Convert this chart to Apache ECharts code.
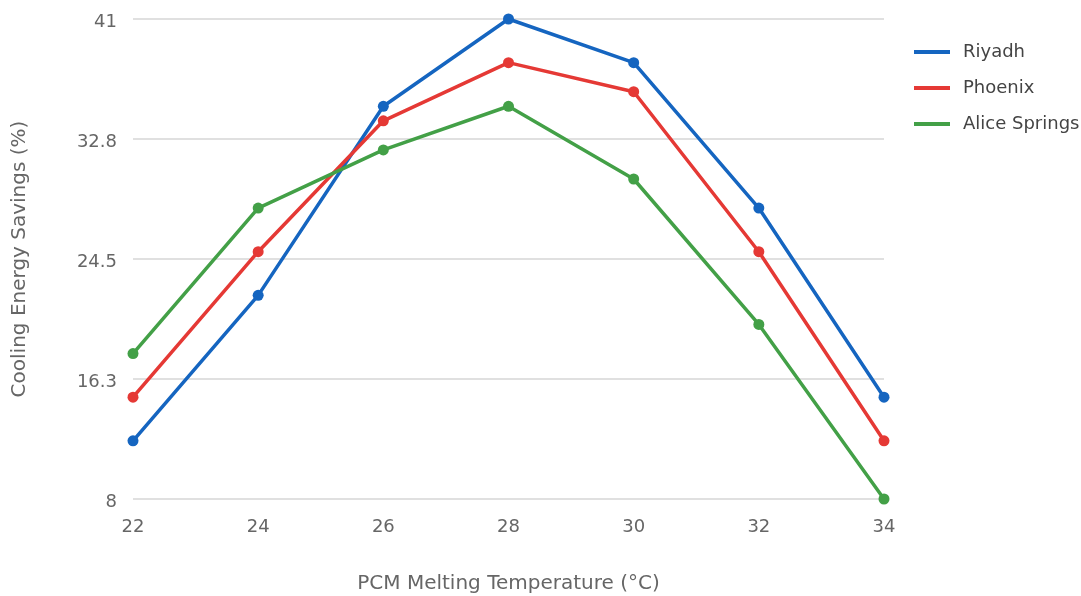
<!DOCTYPE html>
<html>
<head>
<meta charset="utf-8">
<script src="https://cdn.jsdelivr.net/npm/echarts@6/dist/echarts.min.js"></script>
<style>html,body{margin:0;padding:0;background:#fff}#c{width:1081px;height:596px}</style>
</head>
<body>
<div id="c"></div>
<script>
var categories = ['22', '24', '26', '28', '30', '32', '34'];
var riyadh = [12, 22, 35, 41, 38, 28, 15];
var phoenix = [15, 25, 34, 38, 36, 25, 12];
var aliceSprings = [18, 28, 32, 35, 30, 20, 8];
var yTicks = [8, 16.25, 24.5, 32.75, 41];

var chart = echarts.init(document.getElementById('c'));
var font = 'DejaVu Sans';
function mk(name, data, color) {
  return {
    name: name, type: 'line', data: data,
    symbol: 'circle', symbolSize: 11,
    lineStyle: { width: 3.5, color: color },
    itemStyle: { color: color },
    emphasis: { disabled: true }
  };
}
chart.setOption({
  animation: false,
  textStyle: { fontFamily: font },
  grid: { left: 133, right: 197, top: 19, bottom: 97, containLabel: false, outerBoundsMode: 'none' },
  legend: {
    orient: 'vertical', left: 909, top: 38,
    icon: 'rect', itemWidth: 36, itemHeight: 4, itemGap: 18,
    textStyle: { fontFamily: font, fontSize: 18, color: '#444', padding: [0, 0, 0, 8] },
    data: ['Riyadh', 'Phoenix', 'Alice Springs']
  },
  xAxis: {
    type: 'category', data: categories, boundaryGap: false,
    name: 'PCM Melting Temperature (°C)', nameLocation: 'middle', nameGap: 75,
    nameTextStyle: { fontFamily: font, fontSize: 20, color: '#666' },
    axisLine: { show: false }, axisTick: { show: false },
    axisLabel: { fontFamily: font, fontSize: 18, color: '#666', margin: 19 },
    splitLine: { show: false }
  },
  yAxis: {
    type: 'value', min: 8, max: 41,
    name: 'Cooling Energy Savings (%)', nameLocation: 'middle', nameGap: 103,
    nameTextStyle: { fontFamily: font, fontSize: 20, color: '#666' },
    axisLine: { show: false },
    axisTick: { show: false, customValues: yTicks },
    axisLabel: {
      fontFamily: font, fontSize: 18, color: '#666', margin: 16,
      customValues: yTicks,
      formatter: function (v) { return '{a|' + (Math.round(v * 10) / 10) + '}'; },
      rich: { a: { fontFamily: font, fontSize: 18, color: '#666', padding: [7, 0, 0, 0] } }
    },
    splitLine: { show: true, lineStyle: { color: '#e0e0e0', width: 2 } }
  },
  series: [
    mk('Riyadh', riyadh, '#1565C0'),
    mk('Phoenix', phoenix, '#E53935'),
    mk('Alice Springs', aliceSprings, '#43A047')
  ]
});
</script>
</body>
</html>
